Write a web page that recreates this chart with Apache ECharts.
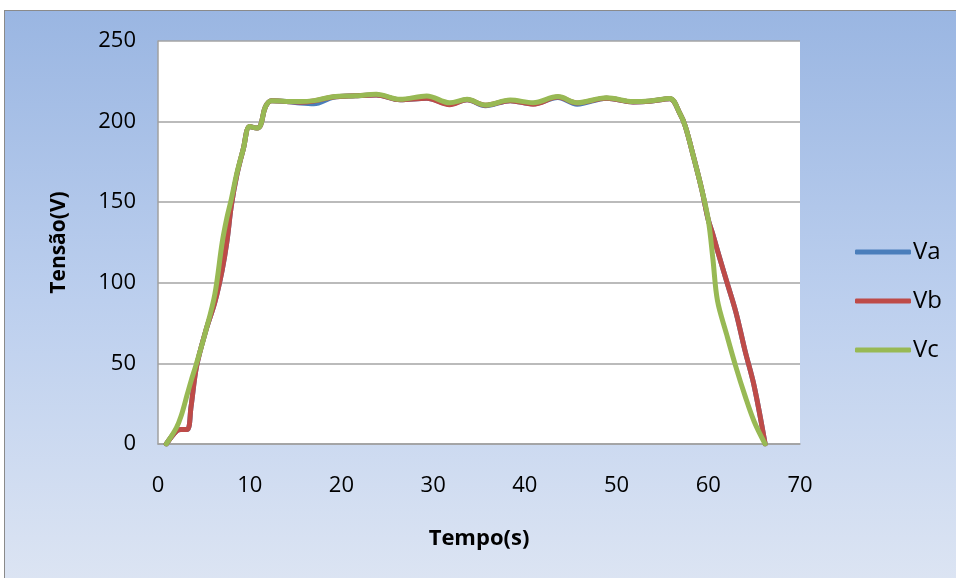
<!DOCTYPE html>
<html>
<head>
<meta charset="utf-8">
<script src="https://cdn.jsdelivr.net/npm/echarts@6/dist/echarts.min.js"></script>
<style>
  html, body { margin: 0; padding: 0; background: #ffffff; overflow: hidden; }
  #frame {
    position: absolute; left: 4px; top: 10px; width: 960px; height: 580px;
    border-top: 1px solid #8a8a8a; border-left: 1px solid #8a8a8a;
    background: linear-gradient(to bottom, #9ab6e2 0%, #bccfee 50%, #dde5f3 100%);
  }
  #chart { position: absolute; left: 0; top: 0; width: 956px; height: 578px; }
</style>
</head>
<body>
<div id="frame"></div>
<div id="chart"></div>
<script>
// Sample instants (s) shared by the three phase voltages
const tempo = [0.9, 2.0, 2.5, 3.2, 3.6, 4.2, 5.2, 6.2, 7.0, 7.5, 8.0, 8.6, 9.3, 10.0, 10.8, 11.2, 11.7, 12.4,
  14.0, 15.5, 17.0, 19.1, 21.5, 23.8, 26.4, 29.3, 31.8, 33.7, 35.7, 38.4, 40.9, 43.6, 45.7, 48.9, 51.8, 53.6, 55.8,
  56.9, 57.5, 58.4, 59.3, 60.0, 60.5, 61.0, 62.0, 63.0, 64.0, 65.0, 66.2];

// Phase voltages (V)
const va = [0, 8, 9, 9, 23, 48, 70, 88, 108, 125, 148, 167, 183, 197, 196, 198, 209, 213,
  212.5, 211.5, 211, 215, 216, 216.5, 213.5, 214.5, 210.8, 213.5, 209.8, 213, 211, 215, 210.8, 214.5, 212.2, 212.6, 214.2,
  205, 197, 178, 157.6, 139, 130, 120, 101, 82, 58, 36, 0];
const vb = [0, 8, 9, 9, 23, 48, 70, 88, 108, 125, 148, 167, 183, 197, 196, 198, 209, 213,
  212.5, 212, 212.8, 215.2, 216, 216.5, 213.5, 214.5, 210.5, 213.5, 210.2, 213, 210.8, 215.2, 211.5, 214.5, 212.2, 212.6, 214.2,
  205, 197, 178, 157.6, 139, 130, 120, 101, 82, 58, 36, 0];
const vc = [0, 10, 17, 31, 39, 50, 70, 93, 125, 140, 152, 168, 183, 197, 196, 198, 209, 213,
  212.5, 212.4, 213, 215.4, 216, 216.9, 213.8, 215.9, 211.7, 213.8, 210.3, 213.4, 211.7, 215.5, 211.7, 214.8, 212.4, 212.8, 214.4,
  205, 197, 178, 157.6, 139, 115, 89, 68, 48, 30, 14, 0];

const seriesNames = ['Va', 'Vb', 'Vc'];
const seriesColors = ['#4a7ebb', '#be4b48', '#98b954'];
const xTicks = { min: 0, max: 70, step: 10 };
const yTicks = { min: 0, max: 250, step: 50 };

const pairs = v => tempo.map((t, i) => [t, v[i]]);
const values = [va, vb, vc];
const font = '"Open Sans", Lato, sans-serif';

const chart = echarts.init(document.getElementById('chart'), null, { renderer: 'canvas' });
chart.setOption({
  animation: false,
  backgroundColor: 'transparent',
  textStyle: { fontFamily: font },
  grid: {
    left: 158, top: 41, width: 642, height: 403,
    show: true, backgroundColor: '#ffffff', borderWidth: 0
  },
  legend: {
    orient: 'vertical', left: 850, top: 235,
    icon: 'roundRect', itemWidth: 56, itemHeight: 5, itemGap: 25,
    textStyle: { fontFamily: font, fontSize: 24, color: '#000', padding: [0, 0, 0, -3] },
    data: seriesNames
  },
  xAxis: {
    type: 'value', min: xTicks.min, max: xTicks.max, interval: xTicks.step,
    name: 'Tempo(s)', nameLocation: 'middle', nameGap: 84,
    nameTextStyle: { fontFamily: font, fontSize: 22, fontWeight: 'bold', color: '#000' },
    axisLine: { lineStyle: { color: '#a0a0a0', width: 1.5 } },
    axisTick: { show: false },
    axisLabel: { fontFamily: font, fontSize: 22, color: '#000', margin: 31 },
    splitLine: { show: false }
  },
  yAxis: {
    type: 'value', min: yTicks.min, max: yTicks.max, interval: yTicks.step,
    name: 'Tensão(V)', nameLocation: 'middle', nameGap: 88, nameRotate: 90,
    nameTextStyle: { fontFamily: font, fontSize: 21, fontWeight: 'bold', color: '#000' },
    axisLine: { show: true, lineStyle: { color: '#a0a0a0', width: 1.5 } },
    axisTick: { show: false },
    axisLabel: { fontFamily: font, fontSize: 22, color: '#000', margin: 22 },
    splitLine: { lineStyle: { color: '#a5a5a5', width: 1.5 } }
  },
  series: seriesNames.map((name, i) => ({
    name, type: 'line', data: pairs(values[i]),
    smooth: 0.35, symbol: 'none',
    itemStyle: { color: seriesColors[i] },
    lineStyle: { color: seriesColors[i], width: 5, cap: 'round', join: 'round' }
  }))
});
</script>
</body>
</html>
